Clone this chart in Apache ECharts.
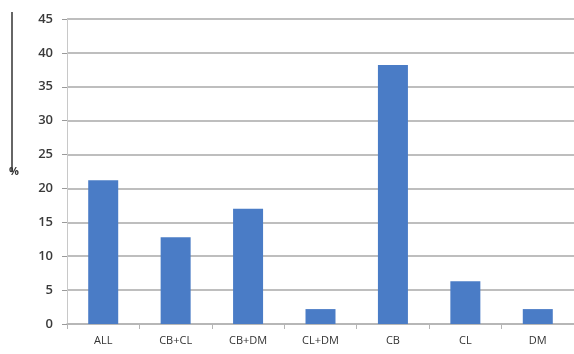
<!DOCTYPE html>
<html>
<head>
<meta charset="utf-8">
<script src="https://cdn.jsdelivr.net/npm/echarts@6/dist/echarts.min.js"></script>
<style>
  html, body { margin: 0; padding: 0; background: #fff; }
  #chart { width: 574px; height: 354px; }
</style>
</head>
<body>
<div id="chart"></div>
<script>
var categories = ['ALL', 'CB+CL', 'CB+DM', 'CL+DM', 'CB', 'CL', 'DM'];
var values = [21.2, 12.8, 17.0, 2.2, 38.2, 6.3, 2.2];
var yTicks = [0, 45, 5]; // min, max, step

var chart = echarts.init(document.getElementById('chart'));

var option = {
    animation: false,
    textStyle: { fontFamily: 'Open Sans' },
    grid: {
        left: 67,
        top: 19,
        bottom: 30,
        width: 509
    },
    xAxis: {
        type: 'category',
        data: categories,
        axisLine: { lineStyle: { color: '#b5b5b5', width: 1.5 } },
        axisTick: { show: true, alignWithLabel: false, length: 5, lineStyle: { color: '#b5b5b5' } },
        axisLabel: { color: '#333', fontSize: 11, margin: 11 }
    },
    yAxis: {
        type: 'value',
        min: yTicks[0],
        max: yTicks[1],
        interval: yTicks[2],
        axisLine: { show: true, lineStyle: { color: '#c8c8c8', width: 1 } },
        axisTick: { show: true, length: 5, lineStyle: { color: '#9a9a9a' } },
        axisLabel: { color: '#3a3a3a', fontSize: 13, fontWeight: 600, margin: 14 },
        splitLine: { lineStyle: { color: '#a8a8a8', width: 1.5 } }
    },
    series: [{
        type: 'bar',
        data: values,
        barWidth: 30,
        itemStyle: { color: '#4a7cc6' }
    }],
    graphic: [
        {
            type: 'line',
            shape: { x1: 12, y1: 12, x2: 12, y2: 172 },
            style: { stroke: '#333', lineWidth: 1.5 }
        },
        {
            type: 'text',
            left: 9,
            top: 166,
            style: { text: '%', fill: '#333', font: 'bold 11px "Open Sans"' }
        }
    ]
};

chart.setOption(option);
</script>
</body>
</html>
